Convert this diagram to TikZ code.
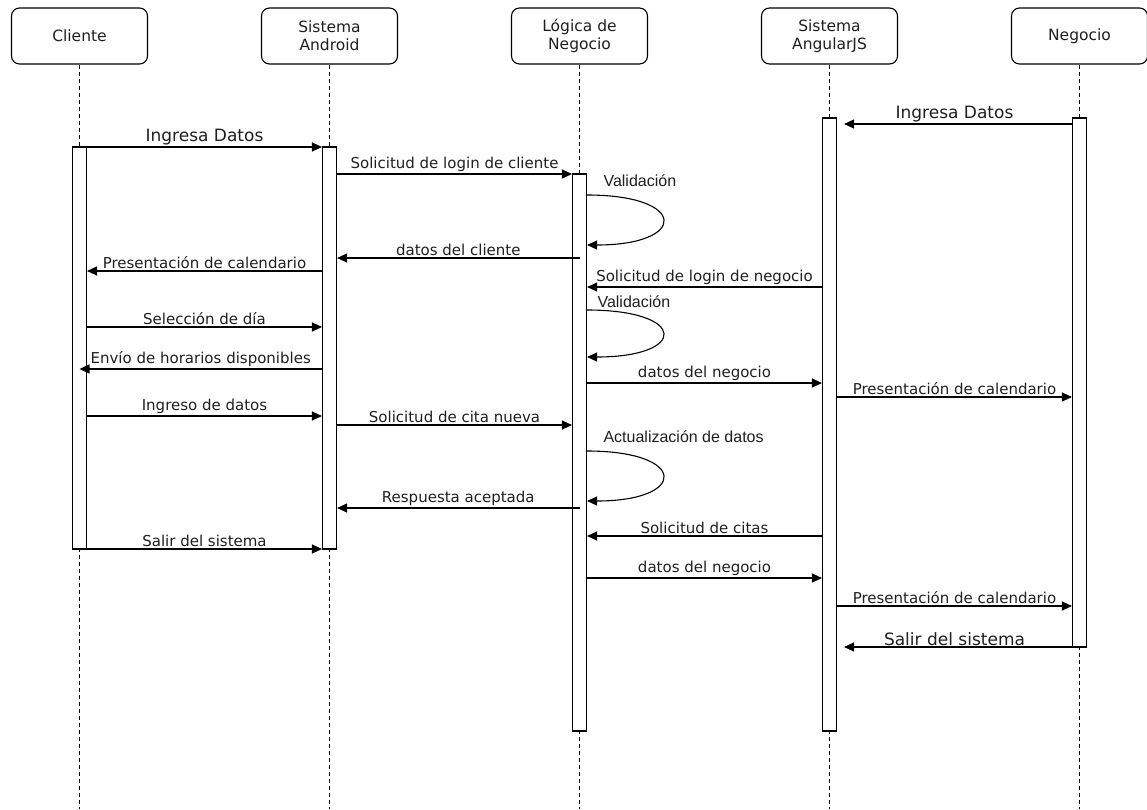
\documentclass[tikz,border=0pt]{standalone}
\usepackage{fontspec}
\setmainfont{DejaVu Sans}
\newfontfamily\arialfont{Liberation Sans}
\usetikzlibrary{positioning}
\usetikzlibrary{arrows.meta}

\begin{document}
\begin{tikzpicture}[x=1pt, y=-1pt, line width=1.1pt,
    every node/.style={text=black!88},
    actor/.style={rectangle, rounded corners=8pt, draw, fill=white, minimum width=136pt, minimum height=56pt, align=center, inner sep=0pt, font=\fontsize{15.5}{18}\selectfont},
    bar/.style={rectangle, draw, fill=white, minimum width=14pt, inner sep=0pt},
    msg/.style={-{Triangle[length=10pt, width=9pt]}},
    lbl/.style={above=1pt, inner sep=1pt, font=\fontsize{15}{18}\selectfont},
    biglbl/.style={above=0pt, inner sep=1pt, font=\fontsize{17}{20}\selectfont},
    looplbl/.style={anchor=west, inner sep=0pt, font=\arialfont\fontsize{16}{19}\selectfont}]

\useasboundingbox (0,0) rectangle (1147,809);

% Actors and lifelines
\foreach \n/\t [count=\i from 0] in {cli/Cliente, and/Sistema\\Android, log/Lógica de\\Negocio, ang/Sistema\\AngularJS, neg/Negocio} {
    \node[actor] (\n) at (79.5+250*\i, 36) {\t};
    \coordinate (\n end) at (79.5+250*\i, 809);
    \draw[dash pattern=on 4pt off 3pt, line width=1pt] (\n.south) -- (\n end);
}

% Activation bars
\node[bar, minimum height=402pt] (actcli) at (79.5, 348) {};
\node[bar, minimum height=402pt] (actand) at (329.5, 348) {};
\node[bar, minimum height=557pt] (actlog) at (579.5, 452.5) {};
\node[bar, minimum height=613pt] (actang) at (829.5, 424.5) {};
\node[bar, minimum height=529pt] (actneg) at (1079.5, 382.5) {};

% Messages of the client side
\draw[msg] (actcli.east |- 0,147) -- (actand.west |- 0,147) node[biglbl, midway] (m1) {Ingresa Datos};
\draw[msg] (actand.east |- 0,174) -- (actlog.west |- 0,174) node[lbl, midway] (m2) {Solicitud de login de cliente};
\draw[msg] (actlog.east |- 0,195) .. controls +(101,0) and +(101,0) .. (actlog.east |- 0,245);
\node[looplbl] (v1) at (603,181) {Validación};
\draw[msg] (actlog.center |- 0,258) -- (actand.east |- 0,258) node[lbl, midway] (m3) {datos del cliente};
\draw[msg] (actand.west |- 0,271) -- (actcli.east |- 0,271) node[lbl, midway] (m4) {Presentación de calendario};
\draw[msg] (actcli.east |- 0,327) -- (actand.west |- 0,327) node[lbl, midway] (m5) {Selección de día};
\draw[msg] (actand.west |- 0,369) -- (actcli.center |- 0,369) node[lbl, midway] (m6) {Envío de horarios disponibles};
\draw[msg] (actcli.east |- 0,416) -- (actand.west |- 0,416) node[lbl, midway] (m7) {Ingreso de datos};
\draw[msg] (actand.east |- 0,425) -- (actlog.west |- 0,425) node[lbl, midway] (m8) {Solicitud de cita nueva};
\draw[msg] (actlog.east |- 0,451) .. controls +(101,0) and +(101,0) .. (actlog.east |- 0,501);
\node[looplbl] (v3) at (603,437) {Actualización de datos};
\draw[msg] (actlog.center |- 0,508) -- (actand.east |- 0,508) node[lbl, midway] (m9) {Respuesta aceptada};
\draw[msg] (actcli.east |- 0,549) -- (actand.west |- 0,549) node[lbl, midway] (m10) {Salir del sistema};

% Messages of the business side
\draw[msg, shorten >=7pt] (actneg.west |- 0,124) -- (actang.east |- 0,124) node[biglbl, midway] (n1) {Ingresa Datos};
\draw[msg] (actang.west |- 0,287) -- (actlog.east |- 0,287) node[lbl, midway] (n2) {Solicitud de login de negocio};
\draw[msg] (actlog.east |- 0,310) .. controls +(101,0) and +(101,0) .. (actlog.east |- 0,357);
\node[looplbl] (v2) at (597,302) {Validación};
\draw[msg] (actlog.east |- 0,383) -- (actang.west |- 0,383) node[lbl, midway] (n3) {datos del negocio};
\draw[msg] (actang.east |- 0,397) -- (actneg.west |- 0,397) node[lbl, midway] (n4) {Presentación de calendario};
\draw[msg] (actang.west |- 0,536) -- (actlog.east |- 0,536) node[lbl, midway] (n5) {Solicitud de citas};
\draw[msg] (actlog.east |- 0,578) -- (actang.west |- 0,578) node[lbl, midway] (n6) {datos del negocio};
\draw[msg] (actang.east |- 0,606) -- (actneg.west |- 0,606) node[lbl, midway] (n7) {Presentación de calendario};
\draw[msg, shorten >=7pt] (actneg.west |- 0,647) -- (actang.east |- 0,647) node[biglbl, midway] (n8) {Salir del sistema};

\end{tikzpicture}
\end{document}
